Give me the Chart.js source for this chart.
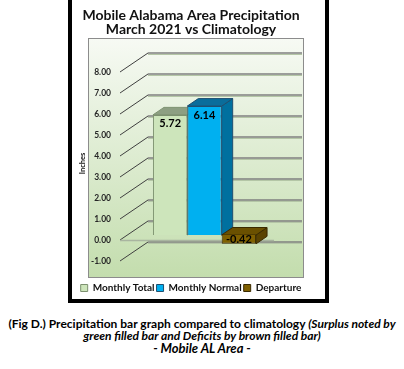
<!DOCTYPE html>
<html>
<head>
<meta charset="utf-8">
<script src="https://cdn.jsdelivr.net/npm/chart.js@4.4.1/dist/chart.umd.min.js"></script>
<style>
  html, body { margin: 0; padding: 0; background: #fff; }
  body { width: 404px; height: 369px; position: relative; overflow: hidden; font-family: Lato, sans-serif; }
  #frame { position: absolute; left: 68px; top: -4px; width: 261px; height: 307px; border: 4px solid #000; box-sizing: border-box; background: #fff; }
  #wrap { position: absolute; left: 72px; top: 0; width: 238px; height: 303px; }
  #caption { position: absolute; left: 0; top: 318px; width: 404px; text-align: center; font-size: 12px; line-height: 12px; color: #000; font-weight: bold; white-space: nowrap; }
  #caption i { font-style: italic; }
</style>
</head>
<body>
<div id="frame"></div>
<div id="wrap"><canvas id="myChart"></canvas></div>
<div id="caption">
  (Fig D.) Precipitation bar graph compared to climatology <i>(Surplus noted by</i><br>
  <i>green filled bar and Deficits by brown filled bar)</i><br>
  <i style="font-size:13px">- Mobile AL Area -</i>
</div>
<script>
const categories = ['March 2021'];
const seriesNames = ['Monthly Total', 'Monthly Normal', 'Departure'];
const monthlyTotal = [5.72];
const monthlyNormal = [6.14];
const departure = [-0.42];
const yTicks = [-1, 0, 1, 2, 3, 4, 5, 6, 7, 8];

// colours for the fake 3d look: front, top, side, outline
const frontColors = ['#cde5bb', '#00b0f0', '#7f6000'];
const topColors = ['#8d9f82', '#0a6d9b', '#6a5000'];
const sideColors = ['#9fb592', '#00709f', '#5a4300'];
const edgeColors = ['#7d9170', '#1f4f70', '#3a2a00'];

const depthX = 11;
const depthY = -7.5;

const box3d = {
  id: 'box3d',
  beforeDraw(chart) {
    const { ctx, chartArea: a } = chart;
    const left = a.left - 32, right = a.right + 15, top = a.top - 8, bottom = a.bottom - 3;
    const g = ctx.createLinearGradient(0, top, 0, bottom);
    g.addColorStop(0, '#f7faf4');
    g.addColorStop(1, '#c3ddad');
    ctx.save();
    ctx.fillStyle = g;
    ctx.fillRect(left, top, right - left, bottom - top);
    ctx.strokeStyle = '#8c8c8c';
    ctx.lineWidth = 1;
    ctx.strokeRect(left + 0.5, top + 0.5, right - left - 1, bottom - top - 1);
    ctx.restore();
  },
  beforeDatasetsDraw(chart) {
    const { ctx, chartArea: a, scales } = chart;
    const y = scales.y;
    const backRight = a.right + 13;
    const fx = a.left, bx = a.left + 28;
    ctx.save();
    yTicks.forEach(v => {
      const py = y.getPixelForValue(v);
      // diagonal from the label to the back wall
      ctx.strokeStyle = '#404040';
      ctx.lineWidth = 1;
      ctx.beginPath();
      ctx.moveTo(fx, py + 5);
      ctx.lineTo(bx, py - 14);
      ctx.stroke();
      // back wall line, with a soft shadow under it
      ctx.strokeStyle = '#b4c6a6';
      ctx.lineWidth = 1;
      ctx.beginPath();
      ctx.moveTo(bx, py - 12.5);
      ctx.lineTo(backRight, py - 12.5);
      ctx.stroke();
      ctx.strokeStyle = '#7f7f7f';
      ctx.lineWidth = 1.5;
      ctx.beginPath();
      ctx.moveTo(bx, py - 14);
      ctx.lineTo(backRight, py - 14);
      ctx.stroke();
    });
    // front edge of the floor
    const p0 = y.getPixelForValue(0);
    ctx.strokeStyle = '#a9b5a0';
    ctx.lineWidth = 1.5;
    ctx.beginPath();
    ctx.moveTo(fx, p0 + 5.5);
    ctx.lineTo(backRight - 28, p0 + 5.5);
    ctx.stroke();

    // top and side faces, the front faces come from chart.js on top
    chart.data.datasets.forEach((ds, i) => {
      chart.getDatasetMeta(i).data.forEach(bar => {
        const l = bar.x - bar.width / 2, r = bar.x + bar.width / 2;
        const t = Math.min(bar.y, bar.base), b = Math.max(bar.y, bar.base);
        ctx.strokeStyle = edgeColors[i];
        ctx.lineWidth = 1;
        ctx.fillStyle = sideColors[i];
        ctx.beginPath();
        ctx.moveTo(r, t);
        ctx.lineTo(r + depthX, t + depthY);
        ctx.lineTo(r + depthX, b + depthY);
        ctx.lineTo(r, b);
        ctx.closePath();
        ctx.fill();
        ctx.stroke();
        ctx.fillStyle = topColors[i];
        ctx.beginPath();
        ctx.moveTo(l, t);
        ctx.lineTo(l + depthX, t + depthY);
        ctx.lineTo(r + depthX, t + depthY);
        ctx.lineTo(r, t);
        ctx.closePath();
        ctx.fill();
        ctx.stroke();
      });
    });
    ctx.restore();
  },
  afterDatasetsDraw(chart) {
    const { ctx } = chart;
    ctx.save();
    ctx.font = 'bold 11px Lato';
    ctx.fillStyle = '#000';
    ctx.textAlign = 'center';
    ctx.textBaseline = 'middle';
    chart.data.datasets.forEach((ds, i) => {
      chart.getDatasetMeta(i).data.forEach((bar, j) => {
        const v = ds.data[j];
        const ty = v >= 0 ? bar.y + 9 : (bar.y + bar.base) / 2;
        ctx.fillText(v.toFixed(2), bar.x, ty);
      });
    });
    ctx.restore();
  }
};

const ctx = document.getElementById('myChart');

let chartConfig = {
  type: 'bar',
  data: {
    labels: categories,
    datasets: [
      { label: seriesNames[0], data: monthlyTotal, backgroundColor: frontColors[0], borderColor: edgeColors[0], borderWidth: 1 },
      { label: seriesNames[1], data: monthlyNormal, backgroundColor: frontColors[1], borderColor: edgeColors[1], borderWidth: 1 },
      { label: seriesNames[2], data: departure, backgroundColor: frontColors[2], borderColor: edgeColors[2], borderWidth: 1 }
    ]
  },
  options: {
    animation: false,
    responsive: true,
    maintainAspectRatio: false,
    categoryPercentage: 0.61,
    barPercentage: 1,
    layout: { padding: 0 },
    plugins: {
      tooltip: { enabled: false },
      title: {
        display: true,
        text: ['Mobile Alabama Area Precipitation', 'March 2021 vs Climatology'],
        color: '#111',
        font: { family: 'Lato', size: 14, weight: 'bold', lineHeight: 1.0 },
        padding: { top: 8, bottom: 10 }
      },
      legend: {
        position: 'bottom',
        labels: {
          color: '#111',
          font: { family: 'Lato', size: 10, weight: 'bold' },
          boxWidth: 7,
          boxHeight: 7,
          padding: 2
        }
      }
    },
    scales: {
      x: { display: false },
      y: {
        min: -2.19,
        max: 9,
        afterFit(scale) { scale.width = 48; },
        afterBuildTicks(scale) { scale.ticks = yTicks.map(v => ({ value: v })); },
        grid: { display: false, drawTicks: false },
        border: { display: false },
        ticks: {
          padding: 9,
          labelOffset: 5,
          color: '#262626',
          font: { family: 'Lato', size: 8.5, weight: 'bold' },
          callback: v => Number(v).toFixed(2)
        },
        title: {
          display: true,
          text: 'Inches',
          color: '#111',
          font: { family: 'Lato', size: 7.5, weight: 'bold' },
          padding: { top: 6, bottom: 0 }
        }
      },
      // empty right axis, only keeps room on the right of the plot
      y2: {
        position: 'right',
        afterFit(scale) { scale.width = 21; },
        grid: { display: false, drawTicks: false },
        border: { display: false },
        ticks: { display: false }
      }
    }
  },
  plugins: [box3d]
};

const myChart = new Chart(ctx, chartConfig);
</script>
</body>
</html>
